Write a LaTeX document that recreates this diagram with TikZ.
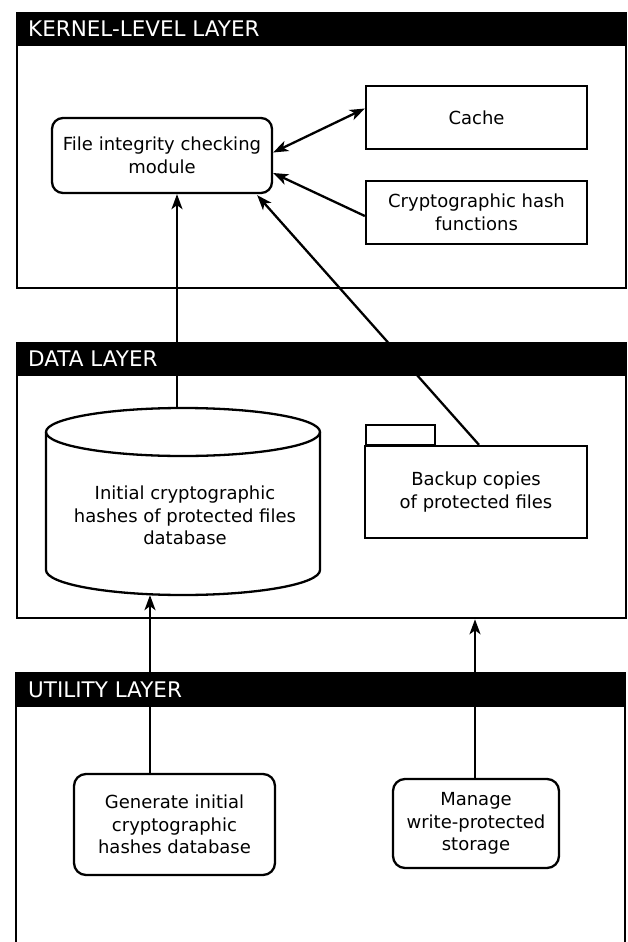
\documentclass[tikz,border=0pt]{standalone}
\usepackage{fontspec}
\setmainfont{DejaVu Sans}
\usetikzlibrary{arrows.meta,calc}
\begin{document}
\begin{tikzpicture}[x=1pt,y=-1pt,
  line width=2.3pt,
  layerbox/.style={draw,anchor=north west,inner sep=0pt,minimum width=609pt},
  layerhead/.style={fill=black,anchor=north west,inner sep=0pt,minimum width=609pt,minimum height=33pt},
  layertitle/.style={text=white,anchor=west,inner sep=0pt,font=\fontsize{21.5}{25}\selectfont},
  body/.style={font=\fontsize{18}{22.5}\selectfont,align=center},
  plainbox/.style={draw,body,inner sep=0pt},
  roundbox/.style={draw,body,rounded corners=12pt,inner sep=0pt},
  arr/.style={-{Stealth[length=15pt,width=11pt,inset=4pt]}},
  darr/.style={{Stealth[length=15pt,width=11pt,inset=4pt]}-{Stealth[length=15pt,width=11pt,inset=4pt]}}
]
\useasboundingbox[fill=white] (0,0) rectangle (627,942);

% ---------------- KERNEL-LEVEL LAYER
\node[layerbox,minimum height=275pt] (kernel) at (16,12) {};
\node[roundbox,rounded corners=11pt,minimum width=220pt,minimum height=75pt] (ficm) at (162,155.5)
  {File integrity checking\\module};
\node[plainbox,minimum width=221pt,minimum height=63pt] (cache) at (476.5,117.5) {Cache};
\node[plainbox,minimum width=221pt,minimum height=63pt] (crypto) at (476.5,212.5)
  {Cryptographic hash\\functions};

% ---------------- DATA LAYER
\node[layerbox,minimum height=275pt] (data) at (16,342) {};

% cylinder (database)
\node[inner sep=0pt,minimum width=274pt,minimum height=187pt] (db) at (183,501.5) {};
\draw (46,432) -- (46,570) arc[start angle=180,end angle=360,x radius=137,y radius=-25]
      -- (320,432);
\draw (183,432) ellipse[x radius=137,y radius=24];
\node[body,inner sep=0pt] (dbtext) at (185,515.5)
  {Initial cryptographic\\hashes of protected files\\database};

% folder
\node[draw,inner sep=0pt,anchor=south west,minimum width=69pt,minimum height=20pt] (foldertab) at (365,446) {};
\node[plainbox,minimum width=222pt,minimum height=92pt] (folder) at (476,492)
  {Backup copies\\of protected files};

% ---------------- UTILITY LAYER
\coordinate (utilnw) at (16,673);
\coordinate (utilne) at (625,673);
\draw (16,950) -- (utilnw) -- (utilne) -- (625,950);
\node[roundbox,minimum width=201pt,minimum height=101pt] (gen) at (174.5,824.5)
  {Generate initial\\cryptographic\\hashes database};
\node[roundbox,minimum width=166pt,minimum height=89pt] (manage) at (476,823.5)
  {Manage\\write-protected\\storage};

% ---------------- connectors
\draw[darr] ([yshift=3pt]ficm.east) -- ([yshift=9pt]cache.west);
\draw[arr] ([yshift=-3.5pt]crypto.west) -- ([yshift=-17.5pt]ficm.east);
\draw[arr] ([xshift=-6pt]db.north) -- ([xshift=-6pt]db.north |- ficm.south);
\draw[arr] ([xshift=3pt]folder.north) -- ([xshift=-16pt,yshift=-1pt]ficm.south east);
\draw[arr] ([xshift=-24.5pt]gen.north) -- ([xshift=-24.5pt,yshift=1pt]gen.north |- db.south);
\draw[arr] ([xshift=-1pt]manage.north) -- ([xshift=-1pt]manage.north |- data.south);

% ---------------- layer headers (on top)
\node[layerhead] (kernelhead) at (16,12) {};
\node[layertitle] (kerneltitle) at (27,28.5) {KERNEL-LEVEL LAYER};
\node[layerhead] (datahead) at (16,342) {};
\node[layertitle] (datatitle) at (27,358.5) {DATA LAYER};
\node[layerhead] (utilhead) at (16,673) {};
\node[layertitle] (utiltitle) at (27,690) {UTILITY LAYER};
\end{tikzpicture}
\end{document}
